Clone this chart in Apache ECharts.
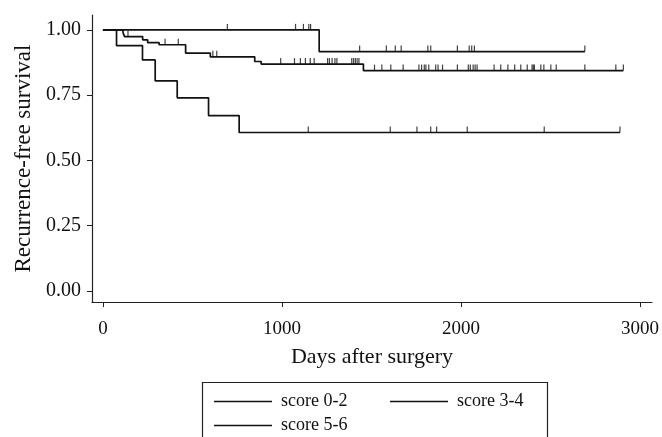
<!DOCTYPE html>
<html>
<head>
<meta charset="utf-8">
<script src="https://cdn.jsdelivr.net/npm/echarts@6/dist/echarts.min.js"></script>
<style>
  html, body { margin: 0; padding: 0; background: #fff; }
  #main { width: 662px; height: 437px; }
</style>
</head>
<body>
<div id="main"></div>
<script>
// Kaplan-Meier step curves: event times (days) and survival after each event
var groupNames = ['score 0-2', 'score 3-4', 'score 5-6'];

var days02 = [0, 1208, 2692];
var surv02 = [1.00, 0.917, 0.917];
var cens02 = [695, 1076, 1120, 1150, 1160, 1434, 1583, 1633, 1666, 1815, 1831, 1980, 2046, 2060, 2075, 2692];

var days34 = [0, 112, 121, 222, 250, 314, 462, 600, 848, 884, 1455, 2907];
var surv34 = [1.00, 0.990, 0.974, 0.962, 0.951, 0.943, 0.911, 0.897, 0.879, 0.869, 0.844, 0.844];
var cens34 = [140, 347, 421, 614, 636, 993, 1070, 1103, 1131, 1158, 1180, 1255, 1265, 1280, 1296, 1307,
  1390, 1400, 1410, 1420, 1430, 1517, 1558, 1608, 1677, 1765, 1780, 1795, 1804, 1820, 1859, 1872, 1897,
  1980, 2041, 2052, 2068, 2079, 2090, 2185, 2222, 2262, 2300, 2334, 2370, 2397, 2404, 2410, 2446, 2463,
  2502, 2532, 2692, 2865, 2907];

var days56 = [0, 76, 221, 292, 415, 590, 761, 2888];
var surv56 = [1.00, 0.940, 0.885, 0.805, 0.740, 0.672, 0.607, 0.607];
var cens56 = [1147, 1605, 1754, 1831, 1864, 2035, 2465, 2888];

var xTicks = [0, 1000, 2000, 3000];
var yTicks = [0, 0.25, 0.5, 0.75, 1];

function levelAt(days, surv, t) {
  var v = surv[0];
  for (var i = 0; i < days.length; i++) {
    if (days[i] <= t) v = surv[i];
  }
  return v;
}
function pairs(days, surv) {
  return days.map(function (d, i) { return [d, surv[i]]; });
}
function marks(days, surv, cens) {
  return cens.map(function (t) { return [t, levelAt(days, surv, t)]; });
}

var serif = 'Liberation Serif';
var myChart = echarts.init(document.getElementById('main'));

function kmLine(name, days, surv) {
  return {
    name: name,
    type: 'line',
    step: 'end',
    data: pairs(days, surv),
    showSymbol: false,
    silent: true,
    animation: false,
    lineStyle: { color: '#111', width: 1.7 },
    itemStyle: { color: '#111' }
  };
}
function kmCens(days, surv, cens) {
  return {
    type: 'scatter',
    data: marks(days, surv, cens),
    symbol: 'rect',
    symbolSize: [1.2, 6],
    symbolOffset: [0, -3],
    silent: true,
    animation: false,
    itemStyle: { color: '#111' }
  };
}

var option = {
  backgroundColor: '#fff',
  grid: { left: 92, right: 3, top: 15, bottom: 135 },
  legend: {
    data: groupNames,
    left: 209,
    top: 386,
    width: 360,
    icon: 'rect',
    itemWidth: 58,
    itemHeight: 1.6,
    itemGap: 3,
    textStyle: { fontFamily: serif, fontSize: 18, color: '#111', width: 106, lineHeight: 21, padding: [0, 0, 0, 4] },
    selectedMode: false
  },
  graphic: [{
    type: 'rect',
    shape: { x: 202.5, y: 382.5, width: 345, height: 80 },
    style: { fill: 'none', stroke: '#222', lineWidth: 1.2 },
    silent: true
  }],
  xAxis: {
    type: 'value',
    min: -61,
    max: 3067,
    name: 'Days after surgery',
    nameLocation: 'middle',
    nameGap: 44,
    nameTextStyle: { fontFamily: serif, fontSize: 22, color: '#111' },
    axisLine: { show: true, onZero: false, lineStyle: { color: '#222', width: 1.2 } },
    axisTick: { show: true, length: 5, customValues: xTicks, lineStyle: { color: '#222' } },
    axisLabel: {
      customValues: xTicks, margin: 18, fontFamily: serif, fontSize: 19, color: '#111',
      formatter: function (v) { return String(v); }
    },
    splitLine: { show: false }
  },
  yAxis: {
    type: 'value',
    min: -0.042,
    max: 1.057,
    name: 'Recurrence-free survival',
    nameLocation: 'middle',
    nameRotate: 90,
    nameGap: 52,
    nameTextStyle: { fontFamily: serif, fontSize: 23, color: '#111' },
    axisLine: { show: true, onZero: false, lineStyle: { color: '#222', width: 1.2 } },
    axisTick: { show: true, length: 5, customValues: yTicks, lineStyle: { color: '#222' } },
    axisLabel: {
      customValues: yTicks, margin: 11, fontFamily: serif, fontSize: 20, color: '#111',
      formatter: function (v) { return v.toFixed(2); }
    },
    splitLine: { show: false }
  },
  series: [
    kmLine(groupNames[0], days02, surv02),
    kmLine(groupNames[1], days34, surv34),
    kmLine(groupNames[2], days56, surv56),
    kmCens(days02, surv02, cens02),
    kmCens(days34, surv34, cens34),
    kmCens(days56, surv56, cens56)
  ]
};
myChart.setOption(option);
</script>
</body>
</html>
